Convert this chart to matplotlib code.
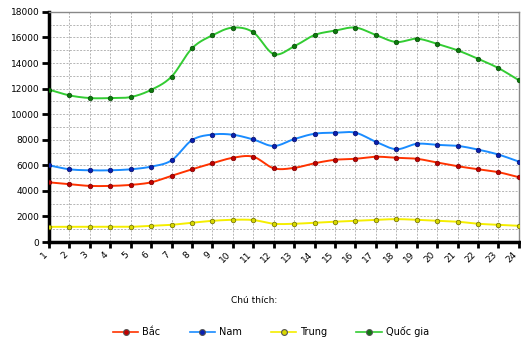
import numpy as np
import matplotlib

matplotlib.use("Agg")
import matplotlib.pyplot as plt
from matplotlib.lines import Line2D

hours = list(range(1, 25))

bac = [4670, 4520, 4390, 4390, 4470, 4670, 5180, 5690, 6160, 6590, 6670, 5770,
       5800, 6160, 6430, 6510, 6670, 6590, 6510, 6220, 5930, 5690, 5460, 5070]
nam = [6000, 5690, 5610, 5610, 5690, 5900, 6390, 7970, 8410, 8390, 8020, 7510,
       8050, 8470, 8550, 8550, 7840, 7260, 7680, 7600, 7520, 7230, 6840, 6290]
trung = [1190, 1190, 1190, 1190, 1190, 1270, 1350, 1510, 1660, 1740, 1720, 1430,
         1430, 1510, 1590, 1660, 1740, 1790, 1740, 1660, 1590, 1430, 1350, 1270]
quoc_gia = [11920, 11470, 11260, 11260, 11340, 11900, 12940, 15150, 16170, 16770,
            16400, 14700, 15300, 16190, 16530, 16770, 16190, 15640, 15900, 15500,
            14990, 14330, 13600, 12650]

series_names = ["Bắc", "Nam", "Trung", "Quốc gia"]
line_colors = ["#ff3300", "#1a8cff", "#f5ee00", "#33cc33"]
marker_colors = ["#c00000", "#0a20b0", "#d8d800", "#0d7a0d"]
edge_colors = ["#7a0000", "#06106a", "#6a6a00", "#064a06"]


def catmull_rom(x, y, steps=20):
    # smooth curve through the points, like the original chart's spline
    x = np.asarray(x, float)
    y = np.asarray(y, float)
    px = np.concatenate([[2 * x[0] - x[1]], x, [2 * x[-1] - x[-2]]])
    py = np.concatenate([[2 * y[0] - y[1]], y, [2 * y[-1] - y[-2]]])
    xs, ys = [], []
    t = np.linspace(0, 1, steps, endpoint=False)
    for i in range(1, len(px) - 2):
        for arr, out in ((px, xs), (py, ys)):
            p0, p1, p2, p3 = arr[i - 1], arr[i], arr[i + 1], arr[i + 2]
            out.append(0.5 * ((2 * p1) + (-p0 + p2) * t
                              + (2 * p0 - 5 * p1 + 4 * p2 - p3) * t ** 2
                              + (-p0 + 3 * p1 - 3 * p2 + p3) * t ** 3))
    xs.append([x[-1]])
    ys.append([y[-1]])
    return np.concatenate(xs), np.concatenate(ys)


fig = plt.figure(figsize=(5.21, 3.39), dpi=100)
ax = fig.add_axes([0.094, 0.286, 0.902, 0.679])

ax.set_xlim(1, 24)
ax.set_ylim(0, 18000)
ax.set_xticks(hours)
ax.set_yticks(range(0, 18001, 2000))
ax.set_yticks(range(0, 18001, 1000), minor=True)
ax.tick_params(axis="y", which="minor", length=0)

ax.grid(True, which="both", color="#b5b5b5", linestyle=(0, (2, 1.5)), linewidth=0.7)
ax.set_axisbelow(True)

for name, vals, lc, mc, ec in zip(series_names, [bac, nam, trung, quoc_gia],
                                  line_colors, marker_colors, edge_colors):
    sx, sy = catmull_rom(hours, vals)
    ax.plot(sx, sy, color=lc, linewidth=1.4, zorder=3)
    ax.plot(hours, vals, linestyle="none", marker="o", markersize=3.3,
            markerfacecolor=mc, markeredgecolor=ec, markeredgewidth=0.5, zorder=4)

for side in ("top", "right"):
    ax.spines[side].set_color("#888888")
    ax.spines[side].set_linewidth(1.0)
for side in ("left", "bottom"):
    ax.spines[side].set_color("black")
    ax.spines[side].set_linewidth(2.5)

ax.tick_params(axis="y", which="major", direction="out", length=5, width=2,
               labelsize=6.5, pad=2)
ax.tick_params(axis="x", direction="out", length=4, width=2, labelsize=6.5, pad=2)
for lbl in ax.get_xticklabels():
    lbl.set_rotation(45)
    lbl.set_ha("right")
    lbl.set_va("top")

fig.text(0.487, 0.115, "Chú thích:", ha="center", va="center", fontsize=6.5)

handles = [
    Line2D([0], [0], color=lc, linewidth=1.2, marker="o", markersize=4.2,
           markerfacecolor=mc, markeredgecolor="#555555", markeredgewidth=0.8)
    for lc, mc in zip(line_colors, marker_colors)
]
fig.legend(handles, series_names, loc="center", bbox_to_anchor=(0.52, 0.022),
           ncol=4, frameon=False, fontsize=7, handlelength=2.6,
           handletextpad=0.4, columnspacing=3.0)

fig.savefig("out.png", dpi=100)
